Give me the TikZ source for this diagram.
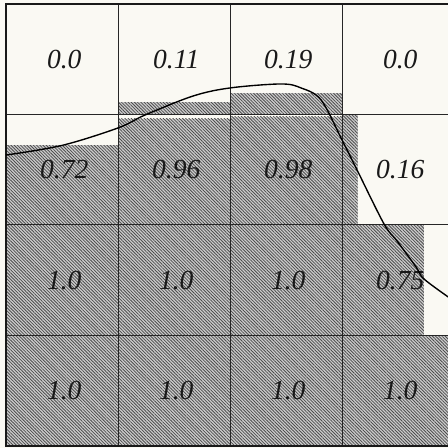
\documentclass[tikz,border=0pt]{standalone}
\usepackage{fontspec}
\setmainfont{Liberation Serif}
\usepackage{tikz}
\usetikzlibrary{patterns.meta}
\definecolor{paper}{RGB}{250,249,243}

\begin{document}
\begin{tikzpicture}[
  x=2cm, y=1.973cm,
  font=\fontsize{14}{16}\selectfont\itshape,
  hatch/.style={fill=gray!40,
                postaction={pattern={Lines[angle=-45, distance=1.15pt, line width=0.4pt]},
                            pattern color=black!70}},
  val/.style={inner sep=1pt, text=black!90},
  cellgrid/.style={line width=0.5pt, black!85},
  border/.style={line width=0.9pt, black!90},
  curve/.style={line width=0.7pt, black}
]

% Page
\fill[paper] (-0.0536,-0.018) rectangle (3.946,4.036);
\useasboundingbox (-0.0536,-0.018) rectangle (3.946,4.036);

% Row 1 --- hatched parts
\path[hatch] (1,3) rectangle (2,3.11);
\path[hatch] (2,3) rectangle (3,3.19);

% Row 2 --- hatched parts
\path[hatch] (0,2) rectangle (1,2.72);
\path[hatch] (1,2) rectangle (2,2.96);
\path[hatch] (2,2) rectangle (3,2.98);
\path[hatch] (3,2) rectangle (3.14,3);

% Row 3 --- hatched parts
\path[hatch] (0,1) rectangle (3,2);
\path[hatch] (3,1) rectangle (3.73,2);

% Row 4 --- hatched parts
\path[hatch] (0,0) rectangle (4,1);

% Grid
\foreach \i in {1,2,3} {
  \draw[cellgrid] (\i,0) -- (\i,4);
  \draw[cellgrid] (0,\i) -- (4.1,\i);
}
\draw[border] (4.1,4) -- (0,4) -- (0,0) -- (4.1,0);

% Values
\node[val] (v11) at (0.52,3.5) {0.0};
\node[val] (v12) at (1.52,3.5) {0.11};
\node[val] (v13) at (2.52,3.5) {0.19};
\node[val] (v14) at (3.52,3.5) {0.0};

\node[val] (v21) at (0.52,2.5) {0.72};
\node[val] (v22) at (1.52,2.5) {0.96};
\node[val] (v23) at (2.52,2.5) {0.98};
\node[val] (v24) at (3.52,2.5) {0.16};

\node[val] (v31) at (0.52,1.5) {1.0};
\node[val] (v32) at (1.52,1.5) {1.0};
\node[val] (v33) at (2.52,1.5) {1.0};
\node[val] (v34) at (3.52,1.5) {0.75};

\node[val] (v41) at (0.52,0.5) {1.0};
\node[val] (v42) at (1.52,0.5) {1.0};
\node[val] (v43) at (2.52,0.5) {1.0};
\node[val] (v44) at (3.52,0.5) {1.0};

% Boundary curve
\draw[curve] plot[smooth, tension=0.55] coordinates {
  (0,2.633) (0.5,2.72) (1.0,2.878) (1.241,2.995) (1.670,3.167)
  (2.0,3.240) (2.455,3.276) (2.634,3.240) (2.813,3.131) (3.0,2.769)
  (3.134,2.498) (3.375,2.009) (3.491,1.855) (3.661,1.620)
  (3.732,1.511) (3.96,1.34)
};

\end{tikzpicture}
\end{document}
